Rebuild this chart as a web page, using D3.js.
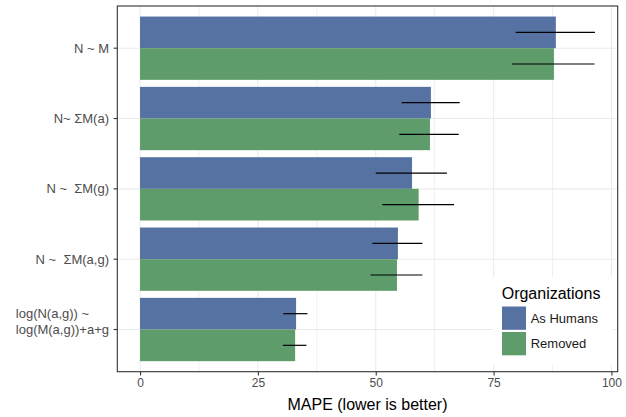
<!DOCTYPE html>
<html>
<head>
<meta charset="utf-8">
<script src="https://cdn.jsdelivr.net/npm/d3@7"></script>
<style>
  body { margin: 0; background: #fff; }
  svg { font-family: "Liberation Sans", Arial, sans-serif; }
</style>
</head>
<body>
<div id="chart"></div>
<script>
// models, top to bottom
var categories = ["N ~ M", "N~ ΣM(a)", "N ~  ΣM(g)", "N ~  ΣM(a,g)", "log(N(a,g)) ~\nlog(M(a,g))+a+g"];
var groups = ["As Humans", "Removed"];

// MAPE per model
var humansMape = [88.2, 61.7, 57.7, 54.7, 33.1];
var removedMape = [87.8, 61.5, 59.1, 54.5, 32.9];

// error bar ends
var humansLow = [79.7, 55.5, 50.0, 49.3, 30.4];
var humansHigh = [96.5, 67.8, 65.1, 59.9, 35.5];
var removedLow = [78.9, 55.0, 51.4, 48.9, 30.3];
var removedHigh = [96.4, 67.6, 66.6, 59.9, 35.3];

var xTicks = [0, 25, 50, 75, 100];
var xMinor = [12.5, 37.5, 62.5, 87.5];

var colors = { "As Humans": "#5572a2", "Removed": "#5e9c6c" };

var width = 626, height = 417;
var panel = { left: 117.3, top: 6, right: 617.7, bottom: 371.7 };

var rows = [];
for (var i = 0; i < categories.length; i++) {
  rows.push({ cat: categories[i], group: "As Humans", value: humansMape[i], lo: humansLow[i], hi: humansHigh[i] });
  rows.push({ cat: categories[i], group: "Removed", value: removedMape[i], lo: removedLow[i], hi: removedHigh[i] });
}

var xMax = d3.max(rows, function(d) { return d.hi; });
var pad = xMax * 0.05;

var x = d3.scaleLinear()
  .domain([0 - pad, xMax + pad])
  .range([panel.left, panel.right]);

var y = d3.scaleBand()
  .domain(categories)
  .range([panel.top, panel.bottom])
  .paddingInner(0.1)
  .paddingOuter(0.15);

var yInner = d3.scaleBand()
  .domain(groups)
  .range([0, y.bandwidth()]);

var svg = d3.select("#chart").append("svg")
  .attr("width", width)
  .attr("height", height);

// panel background + grid
svg.append("rect")
  .attr("x", panel.left).attr("y", panel.top)
  .attr("width", panel.right - panel.left)
  .attr("height", panel.bottom - panel.top)
  .attr("fill", "#fff");

svg.selectAll(".minor")
  .data(xMinor)
  .enter().append("line")
  .attr("class", "minor")
  .attr("x1", function(d) { return x(d); })
  .attr("x2", function(d) { return x(d); })
  .attr("y1", panel.top).attr("y2", panel.bottom)
  .attr("stroke", "#f0f0f0").attr("stroke-width", 1);

svg.selectAll(".vmajor")
  .data(xTicks)
  .enter().append("line")
  .attr("class", "vmajor")
  .attr("x1", function(d) { return x(d); })
  .attr("x2", function(d) { return x(d); })
  .attr("y1", panel.top).attr("y2", panel.bottom)
  .attr("stroke", "#ebebeb").attr("stroke-width", 1.1);

svg.selectAll(".hmajor")
  .data(categories)
  .enter().append("line")
  .attr("class", "hmajor")
  .attr("x1", panel.left).attr("x2", panel.right)
  .attr("y1", function(d) { return y(d) + y.bandwidth() / 2; })
  .attr("y2", function(d) { return y(d) + y.bandwidth() / 2; })
  .attr("stroke", "#ebebeb").attr("stroke-width", 1.1);

// bars
svg.selectAll(".bar")
  .data(rows)
  .enter().append("rect")
  .attr("class", "bar")
  .attr("x", x(0))
  .attr("y", function(d) { return y(d.cat) + yInner(d.group); })
  .attr("width", function(d) { return x(d.value) - x(0); })
  .attr("height", yInner.bandwidth())
  .attr("fill", function(d) { return colors[d.group]; });

// error bars
svg.selectAll(".err")
  .data(rows)
  .enter().append("line")
  .attr("class", "err")
  .attr("x1", function(d) { return x(d.lo); })
  .attr("x2", function(d) { return x(d.hi); })
  .attr("y1", function(d) { return y(d.cat) + yInner(d.group) + yInner.bandwidth() / 2; })
  .attr("y2", function(d) { return y(d.cat) + yInner(d.group) + yInner.bandwidth() / 2; })
  .attr("stroke", "#000").attr("stroke-width", 1.2);

// legend inside panel
var lg = svg.append("g");
lg.append("rect")
  .attr("x", 493).attr("y", 277).attr("width", 120).attr("height", 88)
  .attr("fill", "#fff");
lg.append("text")
  .attr("x", 501.7).attr("y", 299)
  .attr("font-size", 16).attr("fill", "#000")
  .text("Organizations");
groups.forEach(function(g, k) {
  var ky = 306.5 + k * 25.5;
  lg.append("rect")
    .attr("x", 502).attr("y", ky).attr("width", 24).attr("height", 23.3)
    .attr("fill", colors[g]);
  lg.append("text")
    .attr("x", 530.7).attr("y", ky + 11.6)
    .attr("dy", "0.35em")
    .attr("font-size", 13).attr("fill", "#1a1a1a")
    .text(g);
});

// panel border
svg.append("rect")
  .attr("x", panel.left).attr("y", panel.top)
  .attr("width", panel.right - panel.left)
  .attr("height", panel.bottom - panel.top)
  .attr("fill", "none").attr("stroke", "#333").attr("stroke-width", 1.1);

// x axis
var xAxis = d3.axisBottom(x).tickValues(xTicks).tickSize(3.7).tickPadding(3);
var xg = svg.append("g")
  .attr("transform", "translate(0," + panel.bottom + ")")
  .call(xAxis);
xg.select(".domain").remove();
xg.selectAll(".tick line").attr("stroke", "#333").attr("stroke-width", 1.1);
xg.selectAll(".tick text")
  .attr("font-size", 12).attr("fill", "#4d4d4d")
  .attr("font-family", "Liberation Sans, Arial, sans-serif");

// y axis
var yAxis = d3.axisLeft(y).tickSize(3.7).tickPadding(4.5).tickFormat("");
var yg = svg.append("g")
  .attr("transform", "translate(" + panel.left + ",0)")
  .call(yAxis);
yg.select(".domain").remove();
yg.selectAll(".tick line").attr("stroke", "#333").attr("stroke-width", 1.1);

var labelRight = 109;
categories.forEach(function(c) {
  var lines = c.split("\n");
  var cy = y(c) + y.bandwidth() / 2;
  var t = svg.append("text")
    .attr("font-size", 13).attr("fill", "#4d4d4d")
    .style("white-space", "pre");
  lines.forEach(function(ln, j) {
    t.append("tspan")
      .attr("y", cy - (lines.length - 1 - j) * 15.7)
      .attr("dy", "0.35em")
      .text(ln);
  });
  var maxLen = 0;
  t.selectAll("tspan").each(function() {
    maxLen = Math.max(maxLen, this.getComputedTextLength());
  });
  t.selectAll("tspan").attr("x", labelRight - maxLen);
});

// x title
svg.append("text")
  .attr("x", (panel.left + panel.right) / 2)
  .attr("y", 410)
  .attr("text-anchor", "middle")
  .attr("font-size", 16).attr("fill", "#000")
  .text("MAPE (lower is better)");
</script>
</body>
</html>
